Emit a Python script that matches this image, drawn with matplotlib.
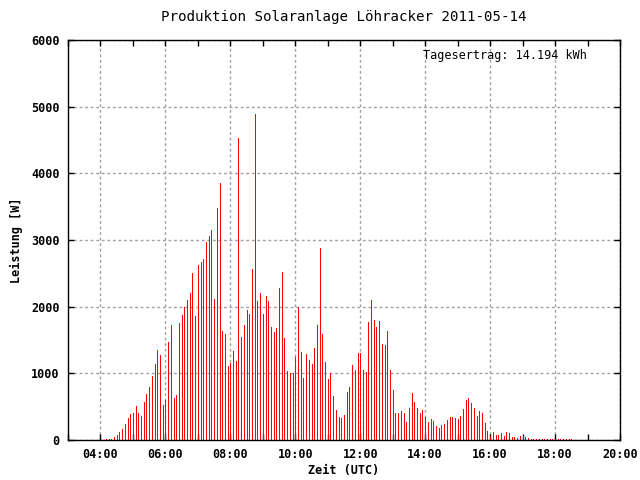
import pandas as pd
import matplotlib
matplotlib.use("Agg")
import matplotlib.pyplot as plt
import matplotlib.dates as mdates

# Leistung [W], alle 5 Minuten ab 04:10 UTC
leistung = [15, 15, 15, 45, 80, 120, 165, 240, 330, 390, 405, 510, 405, 360, 570, 690, 795,
            960, 1140, 1350, 1275, 525, 600, 1470, 1725, 630, 675, 1755, 1875, 1995, 2100, 2205,
            2505, 1860, 2625, 2670, 2715, 2970, 3060, 3150, 2115, 3480, 3855, 1635, 1590, 1110,
            1155, 1335, 1185, 4530, 1545, 1725, 1950, 1890, 2565, 4890, 2085, 2205, 1890, 2160,
            2085, 1695, 1620, 1680, 2280, 2520, 1530, 1035, 1005, 1005, 1245, 1995,
            1320, 930, 1290, 1200, 1140, 1380, 1725, 2880, 1590, 1170, 915, 1005, 660, 450, 345,
            330, 375, 720, 795, 1125, 1050, 1305, 1305, 1050, 1020, 1770, 2100, 1800, 1695, 1785,
            1440, 1425, 1635, 1050,
            750, 405, 405, 435, 405, 270, 480, 705, 570, 480, 405, 450, 345, 270, 315, 285, 210,
            180, 225, 240, 300, 345, 345, 330, 315, 360, 465, 600, 630, 555, 480, 360, 435, 405,
            255, 135, 60, 120, 75, 75, 105, 60, 120, 105, 45, 45, 30, 60, 60, 45, 30,
            15, 15, 15, 15, 15, 15, 15, 15, 15, 15, 15, 15, 15, 15, 15, 15]
start = "2011-05-14 04:10"
zeiten = pd.date_range(start, periods=len(leistung), freq="5min")
titel = "Produktion Solaranlage Löhracker 2011-05-14"
ertrag = "Tagesertrag: 14.194 kWh"

plt.rcParams['font.family'] = 'DejaVu Sans Mono'
plt.rcParams['font.size'] = 8.5

fig = plt.figure(figsize=(6.4, 4.8), dpi=100)
ax = fig.add_axes([68 / 640, 40 / 480, 552 / 640, 400 / 480])
ax.vlines(zeiten, 0, leistung, colors='red', linewidth=0.5, antialiased=False)

ax.set_xlim(pd.Timestamp("2011-05-14 03:00"), pd.Timestamp("2011-05-14 20:00"))
ax.set_ylim(0, 6000)
ax.xaxis.set_major_locator(mdates.HourLocator(byhour=range(4, 21, 2)))
ax.xaxis.set_minor_locator(mdates.HourLocator(byhour=range(3, 21, 2)))
ax.xaxis.set_major_formatter(mdates.DateFormatter('%H:%M'))
ax.set_yticks(range(0, 6001, 1000))

ax.set_axisbelow(True)
ax.grid(True, which='major', color='#a0a0a0', linestyle=(0, (2, 2)), linewidth=1)
ax.tick_params(which='both', direction='in', top=True, right=True, length=4, width=1)
ax.tick_params(which='major', pad=6)
for lab in ax.get_xticklabels() + ax.get_yticklabels():
    lab.set_fontweight('bold')
for s in ax.spines.values():
    s.set_linewidth(1)

ax.set_title(titel, pad=14)
ax.set_xlabel("Zeit (UTC)", fontweight='bold', labelpad=2)
ax.set_ylabel("Leistung [W]", fontweight='bold', labelpad=6)
ax.text(0.94, 0.96, ertrag, transform=ax.transAxes, ha='right', va='center')

fig.savefig("out.png", dpi=100)
